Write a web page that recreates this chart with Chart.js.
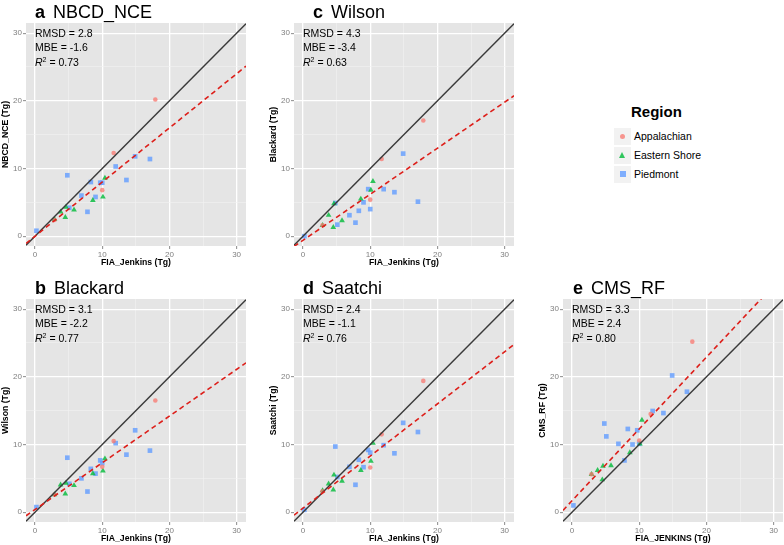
<!DOCTYPE html>
<html><head><meta charset="utf-8">
<script src="https://cdn.jsdelivr.net/npm/chart.js@4"></script>
<style>
body{margin:0;width:784px;height:545px;background:#fff;position:relative;overflow:hidden;font-family:"Liberation Sans",Arial,sans-serif;}
canvas{position:absolute;}
.title{position:absolute;font-size:18px;line-height:20px;white-space:nowrap;color:#000}
.title b{margin-right:3px}
.stats{position:absolute;font-size:10.5px;line-height:14.4px;color:#000;white-space:nowrap}
.stats sup{font-size:7px;line-height:0;vertical-align:4px}
.lgtitle{position:absolute;font-size:15px;font-weight:bold;line-height:18px;white-space:nowrap}
.key{position:absolute;left:614px;width:17px;height:17px;background:#F2F2F2}
.lab{position:absolute;left:634px;font-size:10.5px;line-height:14px;white-space:nowrap}
</style></head>
<body>
<div id="root"></div>
<script>
// ---- data ----
const tickValues = [0, 5, 10, 15, 20, 25, 30];
const regions = ["Appalachian", "Eastern Shore", "Piedmont"];

// FIA_Jenkins reference values (x) per region
const fiaAppalachian = [2.9, 10.0, 11.7, 17.9];
const fiaEastern = [2.9, 3.8, 4.5, 4.6, 5.8, 8.6, 10.1, 10.4];
const fiaPiedmont = [0.2, 4.8, 5.1, 6.9, 7.8, 8.3, 9.0, 9.7, 10.0, 12.0, 13.6, 14.9, 17.1];

// a NBCD_NCE
const nbcdAppalachian = [2.4, 6.8, 12.3, 20.2];
const nbcdEastern = [2.5, 3.6, 2.8, 4.3, 3.9, 5.3, 5.8, 8.6];
const nbcdPiedmont = [0.8, 9.0, 4.2, 6.0, 3.6, 8.0, 5.8, 7.9, 7.9, 10.3, 8.3, 11.8, 11.4];
// c Wilson panel (y axis: Blackard)
const wilsonAppalachian = [1.6, 5.4, 11.4, 17.1];
const wilsonEastern = [1.6, 3.1, 1.3, 4.8, 2.3, 5.5, 6.8, 8.1];
const wilsonPiedmont = [0.0, 4.9, 1.7, 3.1, 2.0, 3.75, 5.0, 6.95, 4.0, 6.95, 6.5, 12.2, 5.1];
// b Blackard panel (y axis: Wilson)
const blackardAppalachian = [2.6, 6.7, 10.5, 16.5];
const blackardEastern = [2.6, 4.05, 2.7, 4.3, 3.95, 5.7, 6.1, 7.9];
const blackardPiedmont = [0.75, 8.05, 4.2, 5.0, 3.05, 6.4, 5.7, 7.65, 7.25, 10.2, 8.5, 12.1, 9.1];
// d Saatchi
const saatchiAppalachian = [3.1, 6.6, 11.5, 19.4];
const saatchiEastern = [3.2, 4.2, 3.3, 5.5, 4.6, 6.2, 7.55, 10.2];
const saatchiPiedmont = [0.35, 9.7, 5.2, 6.7, 4.05, 7.75, 6.65, 9.2, 8.8, 9.9, 8.7, 13.2, 11.85];
// e CMS_RF
const cmsAppalachian = [5.6, 10.6, 14.5, 25.2];
const cmsEastern = [5.6, 6.2, 4.8, 6.8, 6.9, 8.8, 10.1, 13.6];
const cmsPiedmont = [1.0, 13.1, 11.2, 10.1, 7.65, 12.3, 10.0, 12.1, 10.1, 14.95, 14.65, 20.2, 17.8];

// fitted regression lines [slope, intercept]
const fitNbcd = [0.80, 0.0];
const fitWilson = [0.68, -0.6];
const fitBlackard = [0.69, 0.4];
const fitSaatchi = [0.77, 0.6];
const fitCms = [1.06, 1.7];

// stats text
const statsNbcd = ["2.8", "-1.6", "0.73"];
const statsWilson = ["4.3", "-3.4", "0.63"];
const statsBlackard = ["3.1", "-2.2", "0.77"];
const statsSaatchi = ["2.4", "-1.1", "0.76"];
const statsCms = ["3.3", "2.4", "0.80"];

// ---- drawing ----
const X_MIN = -1.35, X_MAX = 31.4, Y_MIN = -1.45, Y_MAX = 31.5;
const PW = 220, PH = 223, YAX = 26, XAX = 22, PADT = 2, PADR = 2;
const FONT = "'Liberation Sans', Arial, sans-serif";
const COLS = ["rgba(248,118,109,0.75)", "rgba(0,186,56,0.8)", "rgba(97,156,255,0.8)"];

const bgPlugin = {
  id: 'panelbg',
  beforeDraw(chart) {
    const {ctx, chartArea: a} = chart;
    ctx.save();
    ctx.fillStyle = '#E5E5E5';
    ctx.fillRect(a.left, a.top, a.right - a.left, a.bottom - a.top);
    ctx.restore();
  }
};

const root = document.getElementById('root');
function el(tag, cls, html, style) {
  const e = document.createElement(tag);
  if (cls) e.className = cls;
  if (html != null) e.innerHTML = html;
  Object.assign(e.style, style || {});
  root.appendChild(e);
  return e;
}
function pts(xs, ys) { return xs.map((x, i) => ({x: x, y: ys[i]})); }

function axis(titleText, isX) {
  return {
    type: 'linear',
    min: isX ? X_MIN : Y_MIN,
    max: isX ? X_MAX : Y_MAX,
    afterBuildTicks: s => { s.ticks = tickValues.map(v => ({value: v})); },
    afterFit: s => {
      if (isX) { s.height = XAX; s.paddingLeft = 0; s.paddingRight = 0; }
      else { s.width = YAX; s.paddingTop = 0; s.paddingBottom = 0; }
    },
    ticks: {
      autoSkip: false, maxRotation: 0, padding: 1,
      color: '#7F7F7F', font: {family: FONT, size: 8},
      callback: v => (v % 10 === 0 ? String(v) : '')
    },
    grid: {
      color: c => (c.tick && c.tick.value % 10 === 0 ? '#FFFFFF' : '#F2F2F2'),
      lineWidth: c => (c.tick && c.tick.value % 10 === 0 ? 1.3 : 0.6),
      tickColor: c => (c.tick && c.tick.value % 10 === 0 ? '#8A8A8A' : 'rgba(0,0,0,0)'),
      tickWidth: 1, tickLength: 3, drawTicks: true
    },
    border: {display: false},
    title: {display: true, text: titleText, color: '#000', padding: 0,
            font: {family: FONT, size: 8.7, weight: 'bold'}}
  };
}

function panel(letter, name, L, T, yTitle, xTitle, app, east, pied, fit, stats, titleLeft) {
  const cv = document.createElement('canvas');
  cv.width = YAX + PW + PADR; cv.height = PADT + PH + XAX;
  cv.style.left = (L - YAX) + 'px'; cv.style.top = (T - PADT) + 'px';
  root.appendChild(cv);
  const line = (a, b) => [{x: X_MIN, y: a * X_MIN + b}, {x: X_MAX, y: a * X_MAX + b}];
  new Chart(cv, {
    type: 'scatter',
    data: {
      datasets: [
        {data: line(fit[0], fit[1]), showLine: true, pointRadius: 0, borderColor: '#DD1F1A',
         borderWidth: 1.6, borderDash: [5, 3.5], clip: 0},
        {data: line(1, 0), showLine: true, pointRadius: 0, borderColor: '#3A3A3A', borderWidth: 1.5, clip: 0},
        {label: regions[0], data: pts(fiaAppalachian, app), pointStyle: 'circle', pointRadius: 2.3,
         backgroundColor: COLS[0], borderWidth: 0},
        {label: regions[1], data: pts(fiaEastern, east), pointStyle: 'triangle', pointRadius: 3.3,
         backgroundColor: COLS[1], borderWidth: 0},
        {label: regions[2], data: pts(fiaPiedmont, pied), pointStyle: 'rect', pointRadius: 3.3,
         backgroundColor: COLS[2], borderWidth: 0}
      ]
    },
    options: {
      responsive: false, animation: false, devicePixelRatio: 1,
      layout: {padding: {left: 0, top: PADT, right: PADR, bottom: 0}, autoPadding: false},
      plugins: {legend: {display: false}, tooltip: {enabled: false}},
      scales: {x: axis(xTitle, true), y: axis(yTitle, false)}
    },
    plugins: [bgPlugin]
  });
  el('div', 'title', '<b>' + letter + '</b> ' + name, {left: titleLeft + 'px', top: (T - 21) + 'px'});
  el('div', 'stats', 'RMSD = ' + stats[0] + '<br>MBE = ' + stats[1] +
     '<br><i>R</i><sup>2</sup> = ' + stats[2], {left: (L + 9) + 'px', top: (T + 3) + 'px'});
}

panel('a', 'NBCD_NCE', 26, 23, 'NBCD_NCE (Tg)', 'FIA_Jenkins (Tg)',
      nbcdAppalachian, nbcdEastern, nbcdPiedmont, fitNbcd, statsNbcd, 35);
panel('c', 'Wilson', 294, 23, 'Blackard (Tg)', 'FIA_Jenkins (Tg)',
      wilsonAppalachian, wilsonEastern, wilsonPiedmont, fitWilson, statsWilson, 313);
panel('b', 'Blackard', 26, 299, 'Wilson (Tg)', 'FIA_Jenkins (Tg)',
      blackardAppalachian, blackardEastern, blackardPiedmont, fitBlackard, statsBlackard, 35);
panel('d', 'Saatchi', 294, 299, 'Saatchi (Tg)', 'FIA_Jenkins (Tg)',
      saatchiAppalachian, saatchiEastern, saatchiPiedmont, fitSaatchi, statsSaatchi, 303);
panel('e', 'CMS_RF', 563, 299, 'CMS_RF (Tg)', 'FIA_JENKINS (Tg)',
      cmsAppalachian, cmsEastern, cmsPiedmont, fitCms, statsCms, 573);

// legend
el('div', 'lgtitle', 'Region', {left: '631px', top: '103px'});
const keyTops = [127.5, 146.5, 165.5];
const sym = [
  '<div style="position:absolute;left:6px;top:6px;width:5px;height:5px;border-radius:50%;background:' + COLS[0] + '"></div>',
  '<div style="position:absolute;left:5px;top:5px;width:0;height:0;border-left:3.5px solid transparent;border-right:3.5px solid transparent;border-bottom:6px solid ' + COLS[1] + '"></div>',
  '<div style="position:absolute;left:5.5px;top:5.5px;width:6px;height:6px;background:' + COLS[2] + '"></div>'
];
regions.forEach((r, i) => {
  el('div', 'key', sym[i], {top: keyTops[i] + 'px'});
  el('div', 'lab', r, {top: (keyTops[i] + 1.5) + 'px'});
});
</script>
</body></html>
